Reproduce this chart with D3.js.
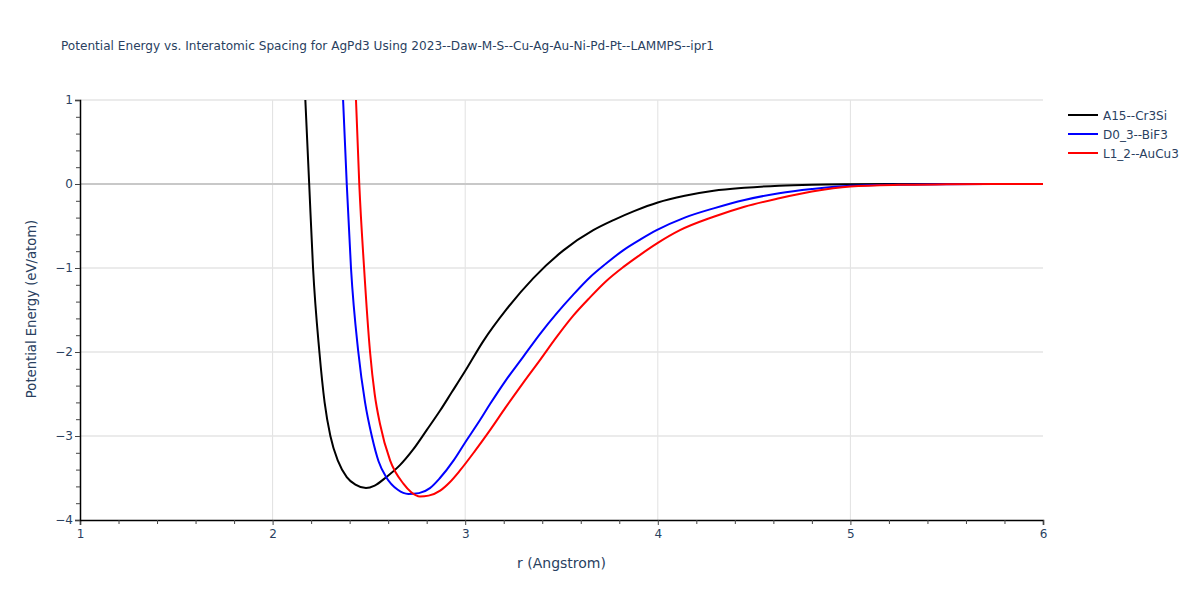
<!DOCTYPE html>
<html>
<head>
<meta charset="utf-8">
<script src="https://cdn.jsdelivr.net/npm/d3@7"></script>
<style>
  body { margin: 0; background: #fff; }
  text { font-family: "DejaVu Sans", Verdana, sans-serif; }
</style>
</head>
<body>
<div id="chart"></div>
<script>
// r (Angstrom) and energy (eV/atom)
const a15R = [2.17, 2.19, 2.21, 2.243, 2.27, 2.30, 2.34, 2.385, 2.43, 2.485, 2.53, 2.59, 2.66, 2.73, 2.80, 2.869, 2.93, 2.999, 3.094, 3.215, 3.354, 3.51, 3.665, 3.77, 3.88, 4.00, 4.14, 4.29, 4.45, 4.63, 4.80, 5.00, 5.25, 5.5, 5.75, 6.0];
const a15E = [1.0, 0.0, -1.0, -2.0, -2.6, -3.0, -3.3, -3.49, -3.58, -3.62, -3.59, -3.49, -3.35, -3.16, -2.93, -2.70, -2.48, -2.23, -1.87, -1.49, -1.12, -0.79, -0.55, -0.43, -0.32, -0.22, -0.14, -0.08, -0.045, -0.02, -0.008, -0.003, -0.001, 0, 0, 0];

const d03R = [2.366, 2.385, 2.407, 2.445, 2.48, 2.515, 2.55, 2.59, 2.65, 2.705, 2.76, 2.817, 2.869, 2.94, 2.999, 3.077, 3.129, 3.21, 3.30, 3.39, 3.475, 3.56, 3.648, 3.73, 3.82, 3.91, 3.994, 4.14, 4.29, 4.45, 4.63, 4.80, 5.00, 5.25, 5.5, 5.75, 6.0];
const d03E = [1.0, 0.0, -1.0, -2.0, -2.6, -3.0, -3.3, -3.49, -3.64, -3.69, -3.68, -3.62, -3.50, -3.29, -3.08, -2.81, -2.62, -2.34, -2.06, -1.78, -1.54, -1.32, -1.11, -0.95, -0.79, -0.66, -0.55, -0.40, -0.29, -0.19, -0.11, -0.06, -0.02, -0.008, -0.003, -0.001, 0];

const l12R = [2.433, 2.45, 2.475, 2.506, 2.53, 2.558, 2.61, 2.68, 2.72, 2.765, 2.81, 2.87, 2.92, 2.973, 3.05, 3.129, 3.21, 3.30, 3.39, 3.475, 3.56, 3.648, 3.73, 3.82, 3.91, 3.994, 4.115, 4.29, 4.45, 4.63, 4.80, 5.00, 5.25, 5.5, 5.75, 6.0];
const l12E = [1.0, 0.0, -1.0, -2.0, -2.5, -2.86, -3.29, -3.57, -3.67, -3.72, -3.71, -3.65, -3.55, -3.41, -3.18, -2.93, -2.66, -2.37, -2.09, -1.82, -1.57, -1.35, -1.16, -0.99, -0.84, -0.71, -0.55, -0.39, -0.27, -0.17, -0.09, -0.03, -0.01, -0.004, -0.001, 0];

const seriesNames = ["A15--Cr3Si", "D0_3--BiF3", "L1_2--AuCu3"];
const seriesColors = ["#000000", "#0000ff", "#ff0000"];
const xTicks = [1, 2, 3, 4, 5, 6];
const yTicks = [-4, -3, -2, -1, 0, 1];

const series = [
  { name: seriesNames[0], color: seriesColors[0], pts: a15R.map((r, i) => [r, a15E[i]]) },
  { name: seriesNames[1], color: seriesColors[1], pts: d03R.map((r, i) => [r, d03E[i]]) },
  { name: seriesNames[2], color: seriesColors[2], pts: l12R.map((r, i) => [r, l12E[i]]) }
];

const W = 1200, H = 600;
const margin = { top: 100, right: 157, bottom: 80, left: 80 };
const width = W - margin.left - margin.right;
const height = H - margin.top - margin.bottom;
const ink = "#2a3f5f";

const svg = d3.select("#chart").append("svg")
  .attr("width", W).attr("height", H);

svg.append("defs").append("clipPath").attr("id", "clip")
  .append("rect").attr("width", width).attr("height", height);

const g = svg.append("g").attr("transform", `translate(${margin.left},${margin.top})`);

const x = d3.scaleLinear().domain([1, 6]).range([0, width]);
const y = d3.scaleLinear().domain([-4, 1]).range([height, 0]);

// grid
g.append("g").selectAll("line").data(xTicks.filter(t => t > 1 && t < 6)).join("line")
  .attr("x1", d => x(d)).attr("x2", d => x(d))
  .attr("y1", 0).attr("y2", height)
  .attr("stroke", "#e1e1e1").attr("stroke-width", 1);
g.append("g").selectAll("line").data(yTicks.filter(t => t > -4)).join("line")
  .attr("x1", 0).attr("x2", width)
  .attr("y1", d => y(d)).attr("y2", d => y(d))
  .attr("stroke", d => d === 0 ? "#c8c8c8" : "#e5e5e5")
  .attr("stroke-width", d => d === 0 ? 2 : 1.5);

// curves
const line = d3.line().x(d => x(d[0])).y(d => y(d[1])).curve(d3.curveMonotoneX);
g.append("g").attr("clip-path", "url(#clip)")
  .selectAll("path").data(series).join("path")
  .attr("d", d => line(d.pts))
  .attr("fill", "none")
  .attr("stroke", d => d.color)
  .attr("stroke-width", 2);

// minor ticks
const xMinor = d3.range(1, 6.001, 0.2).filter(v => Math.abs(v - Math.round(v)) > 0.01);
const yMinor = d3.range(-4, 1.001, 0.2).filter(v => Math.abs(v - Math.round(v)) > 0.01);

g.append("g").attr("transform", `translate(0,${height})`)
  .call(d3.axisBottom(x).tickValues(xTicks).tickSize(5).tickPadding(4).tickFormat(d3.format("d")));
g.append("g").attr("transform", `translate(0,${height})`)
  .call(d3.axisBottom(x).tickValues(xMinor).tickSize(4).tickFormat(""))
  .call(a => a.select(".domain").remove());

g.append("g")
  .call(d3.axisLeft(y).tickValues(yTicks).tickSize(5).tickPadding(2)
    .tickFormat(d => d < 0 ? "\u2212" + Math.abs(d) : d));
g.append("g")
  .call(d3.axisLeft(y).tickValues(yMinor).tickSize(4).tickFormat(""))
  .call(a => a.select(".domain").remove());

g.selectAll(".domain").attr("stroke", "#000").attr("stroke-width", 1.5);
g.selectAll(".tick line").attr("stroke", "#444");
g.selectAll(".tick text").attr("fill", ink).style("font-size", "12px")
  .style("font-family", "'DejaVu Sans', Verdana, sans-serif");

// axis titles
svg.append("text")
  .attr("x", margin.left + width / 2).attr("y", 568)
  .attr("text-anchor", "middle").attr("fill", ink)
  .style("font-size", "14px").text("r (Angstrom)");
svg.append("text")
  .attr("transform", `translate(36,${margin.top + height / 2 - 1}) rotate(-90)`)
  .attr("text-anchor", "middle").attr("fill", ink)
  .style("font-size", "13.2px").text("Potential Energy (eV/atom)");

// title
svg.append("text")
  .attr("x", 61).attr("y", 50)
  .attr("fill", ink).style("font-size", "12.1px")
  .text("Potential Energy vs. Interatomic Spacing for AgPd3 Using 2023--Daw-M-S--Cu-Ag-Au-Ni-Pd-Pt--LAMMPS--ipr1");

// legend
const legend = svg.append("g").attr("transform", "translate(1068,115)");
const item = legend.selectAll("g").data(series).join("g")
  .attr("transform", (d, i) => `translate(0,${i * 19})`);
item.append("line").attr("x1", 0).attr("x2", 30).attr("y1", 0).attr("y2", 0)
  .attr("stroke", d => d.color).attr("stroke-width", 2);
item.append("text").attr("x", 35).attr("y", 4.5)
  .attr("fill", ink).style("font-size", "12px").text(d => d.name);
</script>
</body>
</html>
